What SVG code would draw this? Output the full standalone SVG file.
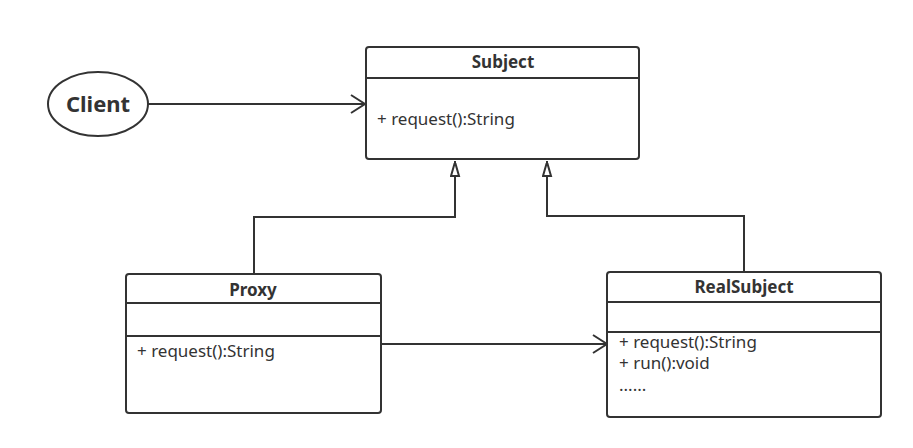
<svg xmlns="http://www.w3.org/2000/svg" width="913" height="448" viewBox="0 0 913 448">
<style>
.box{fill:#fff;stroke:#333;stroke-width:2}
.ln{stroke:#333;stroke-width:2;fill:none}
.t{font-family:"Noto Sans","Open Sans",sans-serif;font-size:17px;fill:#333}
.b{font-weight:bold;text-anchor:middle}
</style>
<defs>
<marker id="open" markerUnits="userSpaceOnUse" markerWidth="20" markerHeight="22" refX="15" refY="10" orient="auto">
<path d="M1,1 L15,10 L1,19" fill="none" stroke="#333" stroke-width="2"/>
</marker>
<marker id="tri" markerUnits="userSpaceOnUse" markerWidth="14" markerHeight="20" refX="16" refY="5" orient="auto">
<path d="M1,1 L15,5 L1,9 Z" fill="#fff" stroke="#333" stroke-width="2"/>
</marker>
</defs>
<g id="connectors">
<path class="ln" d="M148,104 L365,104" marker-end="url(#open)"/>
<path class="ln" d="M381,344 L607,344" marker-end="url(#open)"/>
<path class="ln" d="M254,274 L254,217 L455,217 L455,161" marker-end="url(#tri)"/>
<path class="ln" d="M744,272 L744,216 L547,216 L547,161" marker-end="url(#tri)"/>
</g>
<g id="client">
<ellipse class="box" cx="98" cy="104" rx="50" ry="32"/>
<text class="t b" x="98" y="112" style="font-size:22px">Client</text>
</g>
<g id="subject">
<rect class="box" x="366" y="47" width="273" height="112" rx="3"/>
<line class="ln" x1="366" y1="78" x2="639" y2="78"/>
<text class="t b" x="503" y="68">Subject</text>
<text class="t" x="377" y="125">+ request():String</text>
</g>
<g id="proxy">
<rect class="box" x="126" y="274" width="255" height="139" rx="3"/>
<line class="ln" x1="126" y1="303" x2="381" y2="303"/>
<line class="ln" x1="126" y1="336" x2="381" y2="336"/>
<text class="t b" x="253" y="296">Proxy</text>
<text class="t" x="137" y="357">+ request():String</text>
</g>
<g id="realsubject">
<rect class="box" x="607" y="272" width="274" height="145" rx="3"/>
<line class="ln" x1="607" y1="302" x2="881" y2="302"/>
<line class="ln" x1="607" y1="332" x2="881" y2="332"/>
<text class="t b" x="744" y="293">RealSubject</text>
<text class="t" x="619" y="348">+ request():String</text>
<text class="t" x="619" y="369">+ run():void</text>
<text class="t" x="619" y="391">......</text>
</g>
</svg>
